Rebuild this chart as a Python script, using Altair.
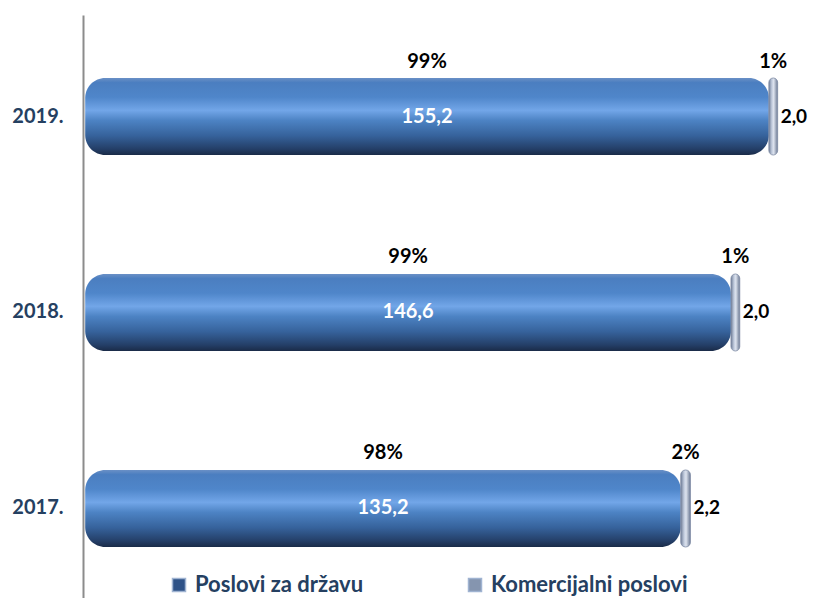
import altair as alt
import pandas as pd

years = ["2019.", "2018.", "2017."]
drzava = [155.2, 146.6, 135.2]
komercijalni = [2.0, 2.0, 2.2]
pct_drzava = ["99%", "99%", "98%"]
pct_kom = ["1%", "1%", "2%"]
series = ["Poslovi za državu", "Komercijalni poslovi"]
series_colors = ["#2E5287", "#8595AF"]

FONT = "Lato"
NAVY = "#254061"

df = pd.DataFrame({
    "year": years,
    "start": [0.0] * len(years),
    "drzava": drzava,
    "kom": komercijalni,
})
df["end"] = df["drzava"] + df["kom"]
df["mid"] = df["drzava"] / 2
df["kmid"] = df["drzava"] + df["kom"] / 2
df["d_label"] = [f"{v:.1f}".replace(".", ",") for v in drzava]
df["k_label"] = [f"{v:.1f}".replace(".", ",") for v in komercijalni]
df["d_pct"] = pct_drzava
df["k_pct"] = pct_kom

leg = pd.DataFrame({"series": series, "year": [years[0]] * 2, "start": [0.0, 0.0]})

xscale = alt.Scale(domain=[-0.5, 162.5], nice=False, zero=False)
yenc = alt.Y(
    "year:N",
    sort=years,
    title=None,
    scale=alt.Scale(paddingInner=0.607, paddingOuter=0.2908, align=0.5526),
    axis=alt.Axis(
        ticks=False, grid=False, domain=True, domainColor="#8C8C8C", domainWidth=2,
        labelFont=FONT, labelFontWeight="bold", labelFontSize=20, labelColor=NAVY,
        labelPadding=20,
    ),
)

grad_state = {
    "gradient": "linear", "x1": 0, "x2": 0, "y1": 0, "y2": 1,
    "stops": [
        {"offset": 0.0, "color": "#6A90C6"},
        {"offset": 0.06, "color": "#4B7EC0"},
        {"offset": 0.25, "color": "#4F86CA"},
        {"offset": 0.42, "color": "#72A6E8"},
        {"offset": 0.55, "color": "#4D83C4"},
        {"offset": 0.75, "color": "#36629B"},
        {"offset": 0.92, "color": "#243F68"},
        {"offset": 1.0, "color": "#1A2B48"},
    ],
}
grad_kom = {
    "gradient": "linear", "x1": 0, "x2": 1, "y1": 0, "y2": 0,
    "stops": [
        {"offset": 0.0, "color": "#6E7C96"},
        {"offset": 0.35, "color": "#C3CDDF"},
        {"offset": 0.55, "color": "#DDE3EE"},
        {"offset": 1.0, "color": "#6A7892"},
    ],
}

base = alt.Chart(df)

bar_state = base.mark_bar(cornerRadius=20, color=grad_state).encode(
    y=yenc,
    x=alt.X("start:Q", scale=xscale, axis=None),
    x2="drzava:Q",
)
bar_kom = base.mark_bar(cornerRadius=5, color=grad_kom, stroke="#7F8CA5", strokeWidth=0.8).encode(
    y=yenc,
    x=alt.X("drzava:Q", scale=xscale, axis=None),
    x2="end:Q",
)
txt_style = dict(font=FONT, fontWeight="bold", fontSize=20, baseline="middle")
pct_d = base.mark_text(color="#000000", dy=-55, **txt_style).encode(
    y=yenc, x=alt.X("mid:Q", scale=xscale, axis=None), text="d_pct:N"
)
val_d = base.mark_text(color="#FFFFFF", **txt_style).encode(
    y=yenc, x=alt.X("mid:Q", scale=xscale, axis=None), text="d_label:N"
)
pct_k = base.mark_text(color="#000000", dy=-55, **txt_style).encode(
    y=yenc, x=alt.X("kmid:Q", scale=xscale, axis=None), text="k_pct:N"
)
val_k = base.mark_text(color="#000000", align="left", dx=3, font=FONT, fontWeight="bold",
                       fontSize=19, baseline="middle").encode(
    y=yenc, x=alt.X("end:Q", scale=xscale, axis=None), text="k_label:N"
)

legend_layer = alt.Chart(leg).mark_square(opacity=0, size=169).encode(
    y=yenc,
    x=alt.X("start:Q", scale=xscale, axis=None),
    color=alt.Color(
        "series:N",
        sort=series,
        scale=alt.Scale(domain=series, range=series_colors),
        legend=alt.Legend(
            title=None, orient="none", legendX=85, legendY=559, direction="horizontal",
            symbolType="square", symbolSize=169, symbolOpacity=1,
            symbolStrokeColor="#9FB3D1", symbolStrokeWidth=1.5,
            labelFont=FONT, labelFontWeight="bold", labelFontSize=22, labelColor=NAVY,
            labelOffset=5, columnPadding=100, padding=0, labelLimit=0,
        ),
    ),
)

chart = alt.layer(
    bar_state, bar_kom, pct_d, val_d, pct_k, val_k, legend_layer
).properties(
    width=718, height=583,
    padding={"left": 75, "top": 7, "right": 7, "bottom": 0},
    autosize=alt.AutoSizeParams(type="none"),
).configure_view(stroke=None)

chart.save("out.html", embed_options={"renderer": "svg", "actions": False})
